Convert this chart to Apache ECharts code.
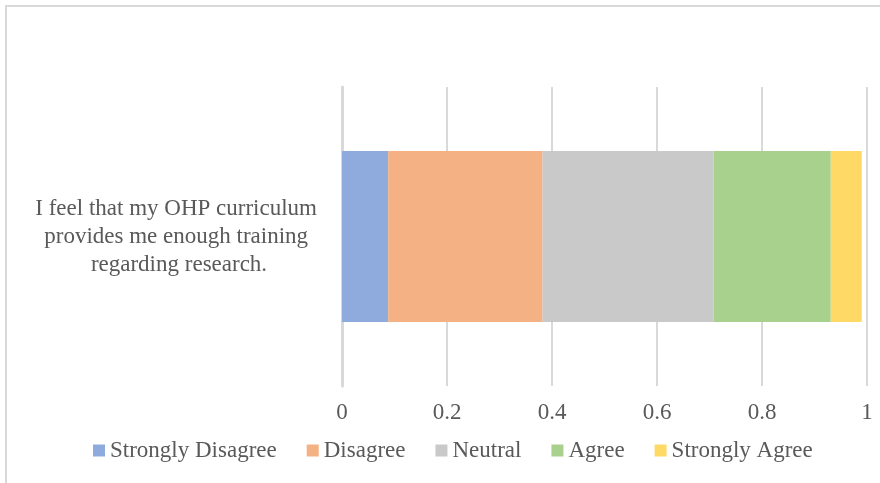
<!DOCTYPE html>
<html>
<head>
<meta charset="utf-8">
<script src="https://cdn.jsdelivr.net/npm/echarts@6/dist/echarts.min.js"></script>
<style>
  html, body { margin: 0; padding: 0; background: #fff; }
  .frame {
    position: absolute;
    left: 5px;
    top: 5px;
    width: 900px;
    height: 500px;
    border: 2px solid #d9d9d9;
  }
  #chart {
    position: absolute;
    left: 0;
    top: 0;
    width: 880px;
    height: 483px;
  }
</style>
</head>
<body>
<div class="frame"></div>
<div id="chart"></div>
<script>
const categories = ['I feel that my OHP curriculum provides me enough training regarding research.']
const seriesNames = ['Strongly Disagree', 'Disagree', 'Neutral', 'Agree', 'Strongly Agree']
const stronglyDisagree = [0.088]
const disagree = [0.294]
const neutral = [0.326]
const agree = [0.223]
const stronglyAgree = [0.059]
const seriesColors = ['#8FAADC', '#F4B183', '#C9C9C9', '#A9D18E', '#FFD966']

const font = '"Liberation Serif", "Times New Roman", serif'
const textColor = '#595959'

const chart = echarts.init(document.getElementById('chart'))

const values = [stronglyDisagree, disagree, neutral, agree, stronglyAgree]

chart.setOption({
  animation: false,
  grid: { left: 342, right: 13, top: 87, bottom: 97 },
  legend: {
    left: 88,
    top: 434,
    icon: 'rect',
    itemWidth: 12,
    itemHeight: 12,
    itemGap: 30,
    data: seriesNames,
    textStyle: { color: textColor, fontFamily: font, fontSize: 23 }
  },
  xAxis: {
    type: 'value',
    min: 0,
    max: 1,
    interval: 0.2,
    axisLine: { show: false },
    axisTick: { show: false },
    axisLabel: { color: textColor, fontFamily: font, fontSize: 23, margin: 15 },
    splitLine: { lineStyle: { color: '#d9d9d9', width: 2 } }
  },
  yAxis: {
    type: 'category',
    data: categories,
    axisLine: { lineStyle: { color: '#d9d9d9', width: 3 } },
    axisTick: { show: false },
    axisLabel: {
      color: textColor,
      fontFamily: font,
      fontSize: 23,
      lineHeight: 28,
      align: 'center',
      margin: 163,
      width: 300,
      overflow: 'break',
      backgroundColor: 'rgba(255,255,255,0)',
      padding: [10, 0, 0, 0]
    }
  },
  series: seriesNames.map((name, i) => ({
    name,
    type: 'bar',
    stack: 'total',
    barWidth: 171,
    data: values[i],
    itemStyle: { color: seriesColors[i] }
  }))
})
</script>
</body>
</html>
